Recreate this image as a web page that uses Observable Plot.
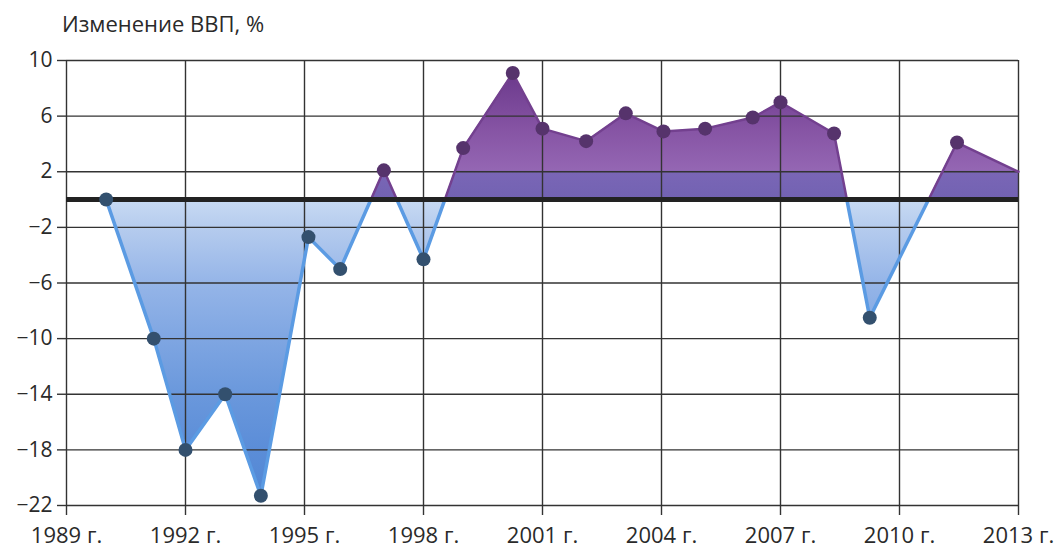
<!DOCTYPE html>
<html><head><meta charset="utf-8">
<script src="https://cdn.jsdelivr.net/npm/d3@7"></script>
<script src="https://cdn.jsdelivr.net/npm/@observablehq/plot@0.6"></script>
<style>
html,body{margin:0;padding:0;background:#fff;}
#title{box-sizing:border-box;height:40px;padding:12px 0 0 62px;font-family:"Open Sans",sans-serif;font-size:22px;line-height:22px;color:#2a2a2a;}
#chart svg{display:block;}
</style></head><body>
<div id="title">Изменение ВВП, %</div>
<div id="chart"></div>
<script>
// Data (positions along x as drawn)
const years  = [1990.0, 1991.2, 1992.0, 1993.0, 1993.9, 1995.1, 1995.9, 1997.0, 1998.0, 1999.0, 2000.25, 2001.0, 2002.1, 2003.1, 2004.05, 2005.1, 2006.3, 2007.0, 2008.35, 2009.25, 2011.45, 2013.0];
const values = [0, -10.0, -18.0, -14.0, -21.3, -2.7, -5.0, 2.1, -4.3, 3.7, 9.1, 5.1, 4.2, 6.2, 4.9, 5.1, 5.9, 7.0, 4.75, -8.5, 4.1, 2.0];
const xTicks = [1989, 1992, 1995, 1998, 2001, 2004, 2007, 2010, 2013];
const xTickLabels = ["1989 г.", "1992 г.", "1995 г.", "1998 г.", "2001 г.", "2004 г.", "2007 г.", "2010 г.", "2013 г."];
const yTicks = [-22, -18, -14, -10, -6, -2, 2, 6, 10];

// Build series with zero crossings inserted
const pts = [];
for (let i = 0; i < years.length; i++) {
  pts.push({x: years[i], y: values[i]});
  if (i < years.length - 1 && values[i] * values[i + 1] < 0) {
    const t = values[i] / (values[i] - values[i + 1]);
    pts.push({x: years[i] + t * (years[i + 1] - years[i]), y: 0});
  }
}
const segs = [];
for (let i = 0; i < pts.length - 1; i++) {
  const a = pts[i], b = pts[i + 1];
  segs.push({x1: a.x, y1: a.y, x2: b.x, y2: b.y, pos: (a.y + b.y) / 2 > 0});
}
const dots = years.slice(0, -1).map((x, i) => ({x, y: values[i]}));
const labelOf = new Map(xTicks.map((t, i) => [t, xTickLabels[i]]));

const chart = Plot.plot({
  width: 1064,
  height: 509,
  marginLeft: 66,
  marginRight: 46,
  marginTop: 20,
  marginBottom: 44,
  style: {fontFamily: "'Open Sans', sans-serif", color: "#2a2a2a", background: "#fff"},
  x: {domain: [1989, 2013]},
  y: {domain: [-22, 10]},
  marks: [
    Plot.areaY(pts, {x: "x", y1: 0, y2: d => Math.max(0, d.y), fill: "url(#gradPos)", curve: "linear"}),
    Plot.areaY(pts, {x: "x", y1: 0, y2: d => Math.min(0, d.y), fill: "url(#gradNeg)", curve: "linear"}),
    Plot.ruleX(xTicks, {y1: -22, y2: 10, stroke: "#333", strokeWidth: 1.4}),
    Plot.ruleY(yTicks, {x1: 1989, x2: 2013, stroke: "#333", strokeWidth: 1.4}),
    Plot.link(segs.filter(s => !s.pos), {x1: "x1", y1: "y1", x2: "x2", y2: "y2", stroke: "#5b9be3", strokeWidth: 3.5, strokeLinecap: "round"}),
    Plot.link(segs.filter(s => s.pos), {x1: "x1", y1: "y1", x2: "x2", y2: "y2", stroke: "#73408f", strokeWidth: 2.5, strokeLinecap: "round"}),
    Plot.ruleY([0], {x1: 1989, x2: 2013, stroke: "#222", strokeWidth: 5}),
    Plot.dot(dots, {x: "x", y: "y", r: 7, fill: d => d.y > 0 ? "#56336c" : "#33506e", stroke: "none"}),
    Plot.axisX(xTicks, {tickSize: 10, tickPadding: 12, fontSize: 22, stroke: "#333", strokeWidth: 1.4, tickFormat: d => labelOf.get(d)}),
    Plot.axisY(yTicks, {tickSize: 9, tickPadding: 5, fontSize: 21, stroke: "#333", strokeWidth: 1.4})
  ]
});

// Gradients in user space, positioned through the y scale
const ys = chart.scale("y");
const svg = d3.select(chart);
const defs = svg.insert("defs", ":first-child");
function grad(id, stops, vTop, vBot) {
  const g = defs.append("linearGradient").attr("id", id).attr("gradientUnits", "userSpaceOnUse")
    .attr("x1", 0).attr("x2", 0).attr("y1", ys.apply(vTop)).attr("y2", ys.apply(vBot));
  for (const [v, c] of stops) g.append("stop").attr("offset", (vTop - v) / (vTop - vBot)).attr("stop-color", c);
}
grad("gradPos", [[10, "#643283"], [8, "#724092"], [5, "#8654a4"], [2.1, "#9466b3"], [1.95, "#7a66b6"], [0, "#7262b2"]], 10, 0);
grad("gradNeg", [[0, "#c8daf3"], [-2, "#b6ccee"], [-6, "#95b5e8"], [-10, "#7fa6e2"], [-14, "#6a98dc"], [-18, "#5b8dd8"], [-22, "#5086d3"]], 0, -22);

document.getElementById("chart").appendChild(chart);
</script>
</body></html>
